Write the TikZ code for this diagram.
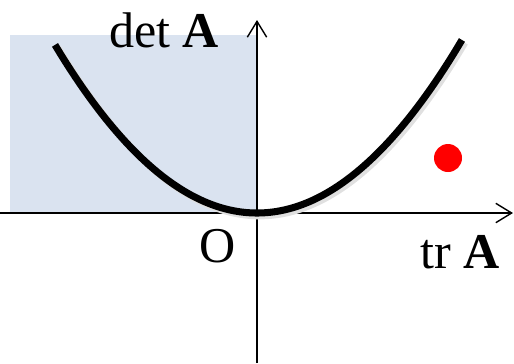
\documentclass[tikz,border=0pt]{standalone}
\usepackage{fontspec}
\setmainfont{Liberation Serif}
\usetikzlibrary{arrows.meta,positioning}
\definecolor{regionblue}{HTML}{DAE3F0}
\definecolor{dotred}{HTML}{FF0000}

\begin{document}
\begin{tikzpicture}[
        axis/.style={line width=0.8pt, -{Straight Barb[length=9pt, width=11pt, line width=0.8pt]}},
        curve/.style={line width=4pt, black},
        shade/.style={line width=4pt, black!12, xshift=1.6pt, yshift=-1.6pt},
        biglabel/.style={font=\fontsize{28.5}{30}\selectfont, inner sep=0pt, anchor=base}
    ]
    \useasboundingbox (-5.14,-3.0) rectangle (5.14,4.26);

    % === Shaded region ===
    \fill[regionblue] (-4.94,0) rectangle (0,3.56);

    % === Axes ===
    \coordinate (xstart) at (-5.14,0);
    \coordinate (xend) at (5.12,0);
    \coordinate (ystart) at (0,-3.0);
    \coordinate (yend) at (0,3.86);
    \draw[axis] (xstart) -- (xend);
    \draw[axis] (ystart) -- (yend);

    % === Parabola ===
    \draw[shade] plot[domain=-4.04:4.1, samples=80, smooth] (\x, {0.206*\x*\x});
    \draw[curve] plot[domain=-4.04:4.1, samples=80, smooth] (\x, {0.206*\x*\x});

    % Point
    \fill[dotred] (3.82,1.1) circle (0.28);

    % Labels
    \node[biglabel] (det) at (-1.86,3.32) {det \textbf{A}};
    \node[biglabel] (orig) at (-0.78,-0.98) {O};
    \node[biglabel] (tr) at (4.06,-1.1) {tr \textbf{A}};

\end{tikzpicture}
\end{document}
